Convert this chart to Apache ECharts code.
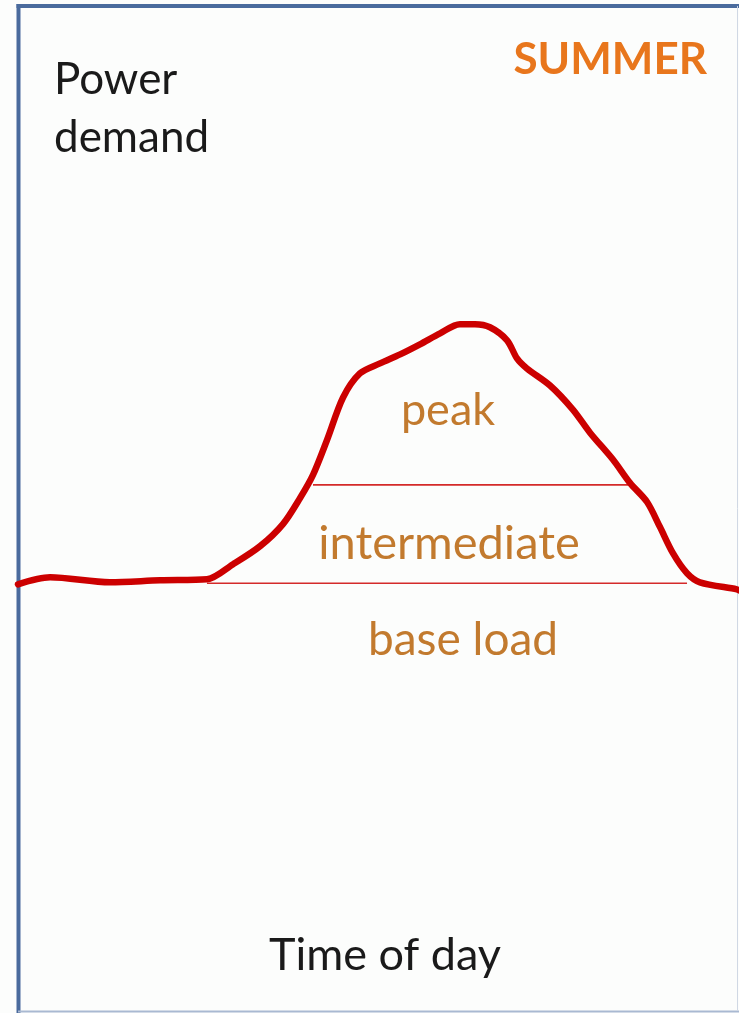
<!DOCTYPE html>
<html>
<head>
<meta charset="utf-8">
<script src="https://cdn.jsdelivr.net/npm/echarts@6/dist/echarts.min.js"></script>
<style>
  html, body { margin: 0; padding: 0; background: #fcfdfc; }
  #chart { width: 739px; height: 1013px; }
</style>
</head>
<body>
<div id="chart"></div>
<script>
// time of day (hours) and power demand (relative units)
var hours  = [0, 1.07, 3.06, 4.73, 6.29, 7.16, 8.06, 8.82, 9.39, 9.82, 10.29, 10.82, 11.38, 12.05, 12.72, 13.38, 14.05, 14.71, 15.21, 15.71, 16.28, 16.61, 16.94, 17.71, 18.47, 19.04, 19.81, 20.37, 20.94, 21.37, 21.80, 22.27, 22.70, 23.93, 24];
var demand = [42.4, 43.1, 42.6, 42.8, 42.9, 44.4, 46.2, 48.4, 51.0, 53.3, 56.8, 61.0, 63.4, 64.4, 65.3, 66.3, 67.4, 68.3, 68.3, 68.0, 66.7, 64.9, 63.9, 62.2, 59.8, 57.5, 54.8, 52.5, 50.6, 48.1, 45.5, 43.5, 42.6, 41.9, 41.8];

var baseLine = [[6.29, 42.5], [22.27, 42.5]];
var interLine = [[9.82, 52.3], [20.31, 52.3]];

var bandLabels = ['peak', 'intermediate', 'base load'];
var yTitle = ['Power', 'demand'];
var xTitle = 'Time of day';
var season = 'SUMMER';

var myChart = echarts.init(document.getElementById('chart'));

var font = 'Lato, "Open Sans", sans-serif';
var bandColor = '#c27a2e';

function toPairs(xs, ys) {
  var out = [];
  for (var i = 0; i < xs.length; i++) out.push([xs[i], ys[i]]);
  return out;
}

// text placed by its baseline (middle of a one-line box sits ~0.39em above it)
function label(txt, x, base, size, color, bold, align) {
  return {
    type: 'text',
    style: {
      text: txt, x: x, y: base - size * 0.39,
      align: align || 'center', verticalAlign: 'middle',
      font: (bold ? 'bold ' : '') + size + 'px ' + font, fill: color
    }
  };
}

var option = {
  backgroundColor: '#fcfdfc',
  animation: false,
  grid: { left: 18, right: 0, top: 6, bottom: 3 },
  xAxis: {
    type: 'value', min: 0, max: 24,
    axisLine: { show: false }, axisTick: { show: false },
    axisLabel: { show: false }, splitLine: { show: false }
  },
  yAxis: {
    type: 'value', min: 0, max: 100,
    axisLine: { show: false }, axisTick: { show: false },
    axisLabel: { show: false }, splitLine: { show: false }
  },
  series: [
    {
      type: 'line',
      data: baseLine,
      symbol: 'none',
      lineStyle: { color: '#d42a2a', width: 1.6 },
      z: 2
    },
    {
      type: 'line',
      data: interLine,
      symbol: 'none',
      lineStyle: { color: '#d42a2a', width: 1.6 },
      z: 2
    },
    {
      type: 'line',
      data: toPairs(hours, demand),
      symbol: 'none',
      smooth: 0.3,
      lineStyle: { color: '#cc0000', width: 6.5, cap: 'round', join: 'round' },
      z: 3
    }
  ],
  graphic: [
    // frame
    { type: 'line', shape: { x1: 18.5, y1: 4, x2: 18.5, y2: 1013 }, style: { stroke: '#4a6b9d', lineWidth: 4 } },
    { type: 'line', shape: { x1: 16.5, y1: 6, x2: 739, y2: 6 }, style: { stroke: '#4a6b9d', lineWidth: 4 } },
    { type: 'line', shape: { x1: 18, y1: 1011.5, x2: 739, y2: 1011.5 }, style: { stroke: '#a9b9d2', lineWidth: 2 } },
    { type: 'line', shape: { x1: 737.5, y1: 6, x2: 737.5, y2: 1011 }, style: { stroke: '#d0d8e4', lineWidth: 1 } },
    // texts
    label(yTitle[0], 54, 97, 44, '#1a1a1a', false, 'left'),
    label(yTitle[1], 54, 155, 44, '#1a1a1a', false, 'left'),
    label(season, 707, 77, 44, '#e8761c', true, 'right'),
    label(bandLabels[0], 448, 428, 45, bandColor),
    label(bandLabels[1], 449, 562, 47, bandColor),
    label(bandLabels[2], 463, 658, 46, bandColor),
    label(xTitle, 385, 973, 45, '#1a1a1a')
  ]
};

myChart.setOption(option);
</script>
</body>
</html>
